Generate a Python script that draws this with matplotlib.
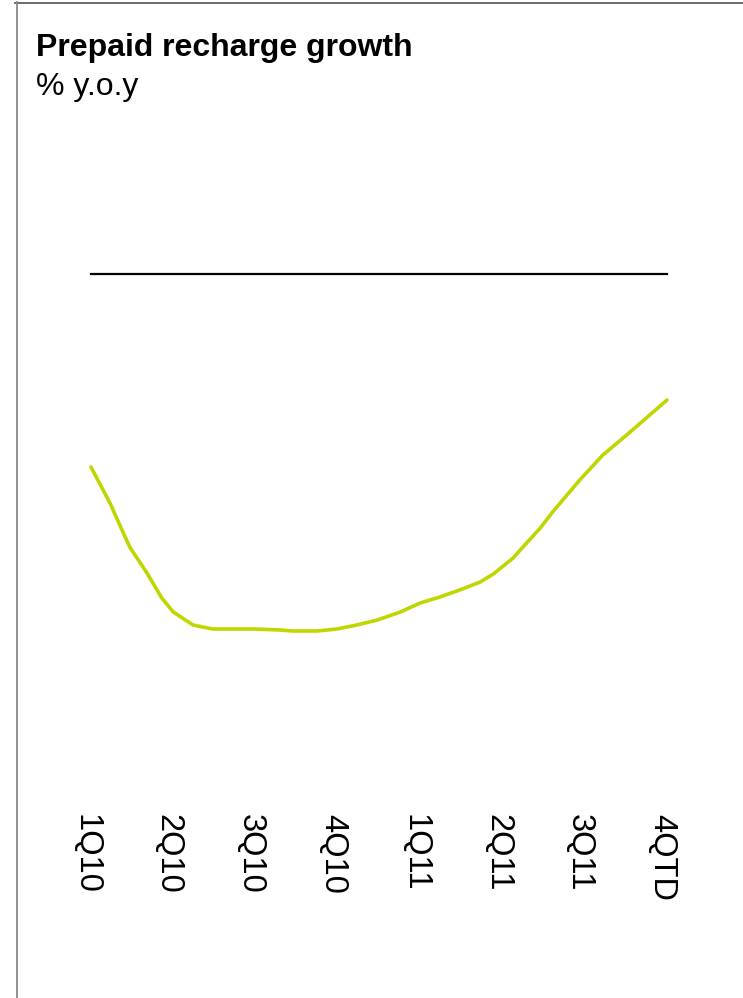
import matplotlib
matplotlib.use("Agg")
import matplotlib.pyplot as plt
from matplotlib.lines import Line2D
from matplotlib.transforms import ScaledTranslation

plt.rcParams['font.family'] = ['Liberation Sans', 'DejaVu Sans']

categories = ["1Q10", "2Q10", "3Q10", "4Q10", "1Q11", "2Q11", "3Q11", "4QTD"]

# position along the quarter axis (0 = 1Q10) and value (reference line = 0)
x_pos = [0.00, 0.23, 0.47, 0.68, 0.86, 1.00, 1.24, 1.48, 1.97, 2.30, 2.45,
         2.75, 2.99, 3.23, 3.48, 3.76, 4.00, 4.24, 4.48, 4.73, 4.89, 5.13,
         5.25, 5.46, 5.61, 5.94, 6.22, 6.51, 7.00]
growth = [-9.65, -11.45, -13.65, -14.95, -16.2, -16.9, -17.55, -17.75, -17.75,
          -17.8, -17.85, -17.85, -17.75, -17.55, -17.3, -16.9, -16.45, -16.15,
          -15.8, -15.4, -15.0, -14.2, -13.65, -12.7, -11.9, -10.3, -9.05,
          -8.05, -6.3]
ref_level = 0.0

W, H = 743, 998
fig = plt.figure(figsize=(W / 100, H / 100), dpi=100)

ax_left, ax_right = 91, 667
ax_top, ax_bottom = 274, 800
ax = fig.add_axes([ax_left / W, 1 - ax_bottom / H, (ax_right - ax_left) / W,
                   (ax_bottom - ax_top) / H])
ax.set_xlim(0, len(categories) - 1)
ax.set_ylim(-(ax_bottom - ax_top) / 20, 0)
for s in ax.spines.values():
    s.set_visible(False)
ax.set_yticks([])
ax.set_xticks(range(len(categories)))
ax.set_xticklabels(categories, rotation=270, fontsize=23.5, va='top', ha='center')
ax.tick_params(axis='x', length=0, pad=10)
shift = ScaledTranslation(-5 / 100, 0, fig.dpi_scale_trans)
for lbl in ax.get_xticklabels():
    lbl.set_transform(lbl.get_transform() + shift)

ax.axhline(ref_level, color='black', lw=1.6, clip_on=False)
ax.plot(x_pos, growth, color='#BFD600', lw=2.6, solid_capstyle='round',
        solid_joinstyle='round', clip_on=False)

fig.text(36 / W, 1 - 56 / H, "Prepaid recharge growth", fontsize=23,
         fontweight='bold', va='baseline', ha='left')
fig.text(36 / W, 1 - 95 / H, "% y.o.y", fontsize=23, va='baseline', ha='left')

# frame lines
fig.add_artist(Line2D([15 / W, 1], [1 - 2.5 / H, 1 - 2.5 / H],
                      transform=fig.transFigure, color='#5f5f5f', lw=1.3))
fig.add_artist(Line2D([16.5 / W, 16.5 / W], [0, 1 - 2 / H],
                      transform=fig.transFigure, color='#888888', lw=1.3))

fig.savefig("out.png", dpi=100)
